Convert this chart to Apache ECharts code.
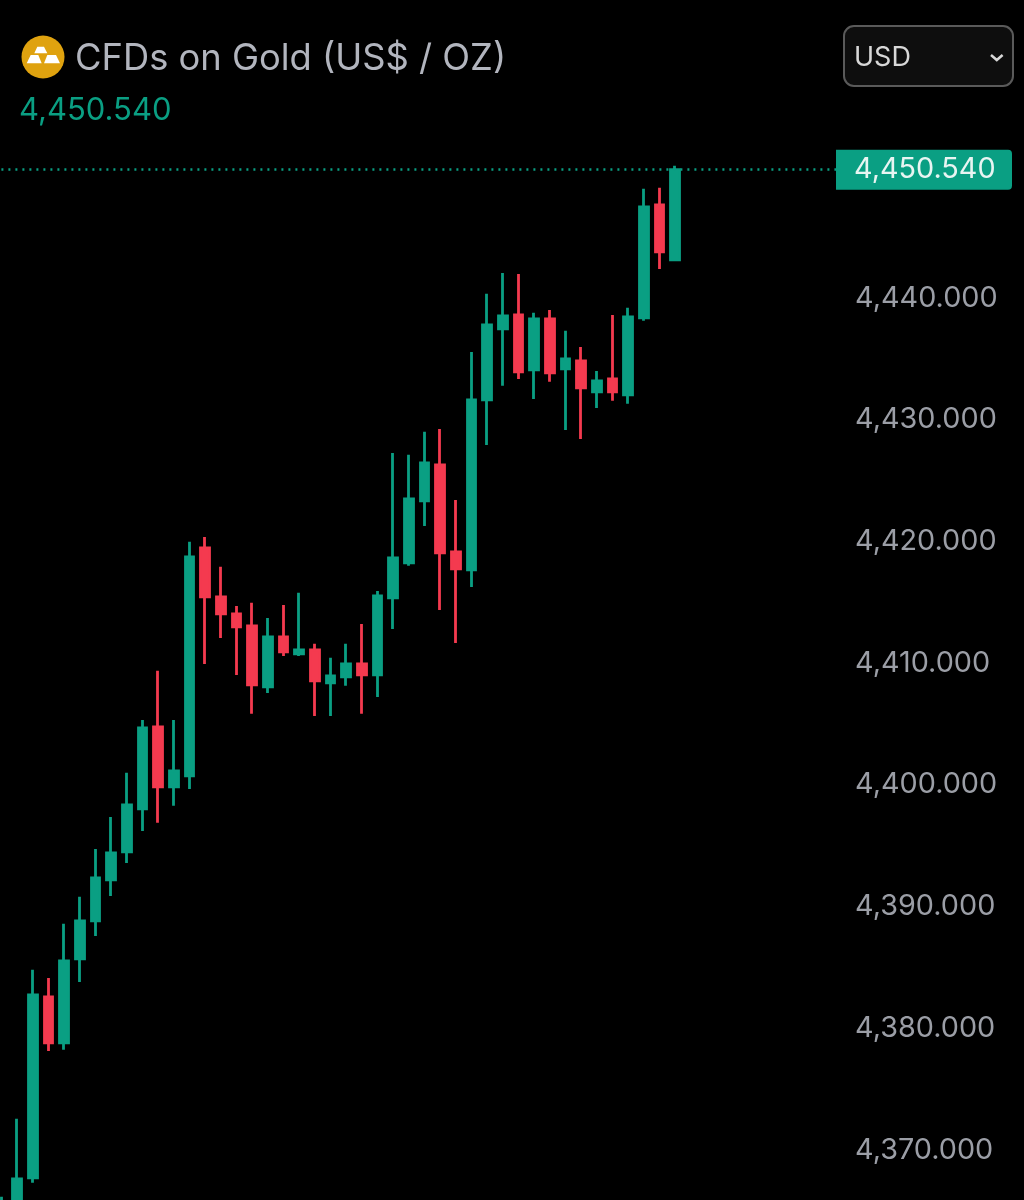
<!DOCTYPE html>
<html>
<head>
<meta charset="utf-8">
<style>
html,body{margin:0;padding:0;background:#000;}
#main{width:1024px;height:1200px;}
</style>
<script src="https://cdn.jsdelivr.net/npm/echarts@6/dist/echarts.min.js"></script>
</head>
<body>
<div id="main"></div>
<script>
var instrumentName = 'CFDs on Gold (US$ / OZ)';
var currencyName = 'USD';
var lastPrice = 4450.54;
var lastPriceText = '4,450.540';
var tickValues = [4370, 4380, 4390, 4400, 4410, 4420, 4430, 4440];
var tickLabels = ['4,370.000', '4,380.000', '4,390.000', '4,400.000', '4,410.000', '4,420.000', '4,430.000', '4,440.000'];

// oldest first. the first two run off the bottom edge so their lower part is a guess
var opens = [4360, 4364, 4367.70, 4382.57, 4378.79, 4385.69, 4388.82, 4392.19, 4394.49, 4398.02, 4404.76,
    4399.83, 4400.73, 4419.47, 4415.44, 4414.04, 4413.06, 4408.04, 4412.15, 4410.76, 4411.09, 4408.37,
    4408.87, 4409.93, 4409.03, 4415.36, 4418.23, 4423.33, 4426.29, 4419.14, 4417.66, 4431.63, 4437.46,
    4438.61, 4434.09, 4438.28, 4434.17, 4434.83, 4432.28, 4433.35, 4432.04, 4438.37, 4447.65, 4443.13];
var closes = [4364, 4367.62, 4382.74, 4378.79, 4385.53, 4388.82, 4392.35, 4394.40, 4398.35, 4404.68, 4399.83,
    4401.14, 4418.73, 4415.44, 4414.04, 4412.97, 4408.21, 4412.15, 4410.92, 4411.09, 4408.54, 4408.95,
    4409.93, 4409.03, 4415.52, 4418.64, 4423.49, 4426.45, 4419.06, 4417.74, 4431.63, 4437.79, 4438.53,
    4433.93, 4438.28, 4433.85, 4435.00, 4432.61, 4433.19, 4432.28, 4438.45, 4447.49, 4443.79, 4450.54];
var lows = [4358, 4363, 4367.29, 4378.13, 4378.22, 4383.80, 4387.58, 4390.87, 4393.58, 4396.21, 4396.87,
    4398.27, 4399.66, 4409.93, 4412.07, 4409.03, 4405.83, 4407.55, 4410.59, 4410.59, 4405.66, 4405.66,
    4408.13, 4405.83, 4407.22, 4412.81, 4417.99, 4421.27, 4414.37, 4411.66, 4416.26, 4427.93, 4432.78,
    4433.35, 4431.71, 4433.11, 4429.16, 4428.42, 4430.97, 4431.55, 4431.30, 4438.12, 4442.39, 4443.13];
var highs = [4366.14, 4372.55, 4384.79, 4384.13, 4388.57, 4390.79, 4394.73, 4397.36, 4400.98, 4405.33, 4409.36,
    4405.33, 4419.96, 4420.37, 4417.91, 4414.70, 4414.95, 4413.71, 4414.78, 4415.77, 4411.58, 4410.43,
    4411.58, 4413.22, 4415.93, 4427.27, 4427.11, 4429.00, 4429.24, 4423.41, 4435.57, 4440.34, 4442.06,
    4441.98, 4438.78, 4439.02, 4437.30, 4435.98, 4434.01, 4438.61, 4439.19, 4448.97, 4449.05, 4450.86];

var upColor = '#0a9f83';
var downColor = '#f43a4f';
var fontName = 'Inter, "Noto Sans", sans-serif';

// the time axis keeps going past the last candle, up to the price scale
var slotCount = 55;
var categories = [];
for (var i = 0; i < slotCount; i++) {
    categories.push(i);
}
var candleData = opens.map(function (open, i) {
    return [open, closes[i], lows[i], highs[i]];
});

var chart = echarts.init(document.getElementById('main'));
chart.setOption({
    backgroundColor: '#000',
    animation: false,
    title: [
        {
            text: instrumentName,
            left: 70,
            top: 36,
            textStyle: {color: '#b2b5be', fontFamily: fontName, fontSize: 36.3, fontWeight: 400}
        },
        {
            text: lastPriceText,
            left: 14,
            top: 90,
            textStyle: {color: upColor, fontFamily: fontName, fontSize: 31, fontWeight: 400}
        }
    ],
    grid: {left: 1.4, right: 176.4, top: 54.6, bottom: 0},
    xAxis: {
        type: 'category',
        boundaryGap: false,
        data: categories,
        show: false
    },
    yAxis: {
        type: 'value',
        position: 'right',
        min: 4365.88,
        max: 4460,
        splitLine: {show: false},
        axisLine: {show: false},
        axisTick: {show: false},
        axisLabel: {
            customValues: tickValues,
            margin: 7.4,
            color: '#9b9ea6',
            fontFamily: fontName,
            fontSize: 28.8,
            formatter: function (value) {
                return tickLabels[tickValues.indexOf(value)];
            }
        }
    },
    series: [{
        type: 'candlestick',
        data: candleData,
        barWidth: 9.2,
        itemStyle: {
            color: upColor,
            color0: downColor,
            borderColor: upColor,
            borderColor0: downColor,
            borderWidth: 2.8
        },
        markLine: {
            silent: true,
            symbol: 'none',
            animation: false,
            data: [{yAxis: lastPrice}],
            lineStyle: {color: upColor, type: [2, 5], width: 2.6},
            label: {
                position: 'end',
                distance: -11.6,
                formatter: lastPriceText,
                color: '#e8f5f2',
                backgroundColor: upColor,
                fontFamily: fontName,
                fontSize: 28.8,
                width: 158,
                height: 40,
                lineHeight: 40,
                padding: [0, 0, 0, 18],
                borderRadius: [0, 4, 4, 0]
            }
        }
    }],
    graphic: [
        // gold icon
        {type: 'circle', shape: {cx: 43, cy: 57, r: 21.5}, style: {fill: '#dfa20f'}},
        {type: 'polygon', shape: {points: [[37.3, 46.7], [44, 46.7], [47.3, 53.3], [34.3, 53.3]]}, style: {fill: '#fff'}},
        {type: 'polygon', shape: {points: [[30.7, 55], [38.3, 55], [41.7, 63.3], [26.7, 63.3]]}, style: {fill: '#fff'}},
        {type: 'polygon', shape: {points: [[47.3, 55], [56, 55], [60, 63.3], [44, 63.3]]}, style: {fill: '#fff'}},
        // currency dropdown
        {type: 'rect', shape: {x: 844, y: 26, width: 169, height: 60, r: 10}, style: {fill: '#0e0e0e', stroke: '#5a5a5a', lineWidth: 2}},
        {type: 'text', x: 854, y: 58, style: {text: currencyName, fill: '#d8d8d8', font: '27px ' + fontName, verticalAlign: 'middle'}},
        {type: 'polyline', shape: {points: [[991, 55], [996.8, 60], [1002.6, 55]]}, style: {stroke: '#d8d8d8', lineWidth: 2.5, fill: 'none'}}
    ]
});
</script>
</body>
</html>
